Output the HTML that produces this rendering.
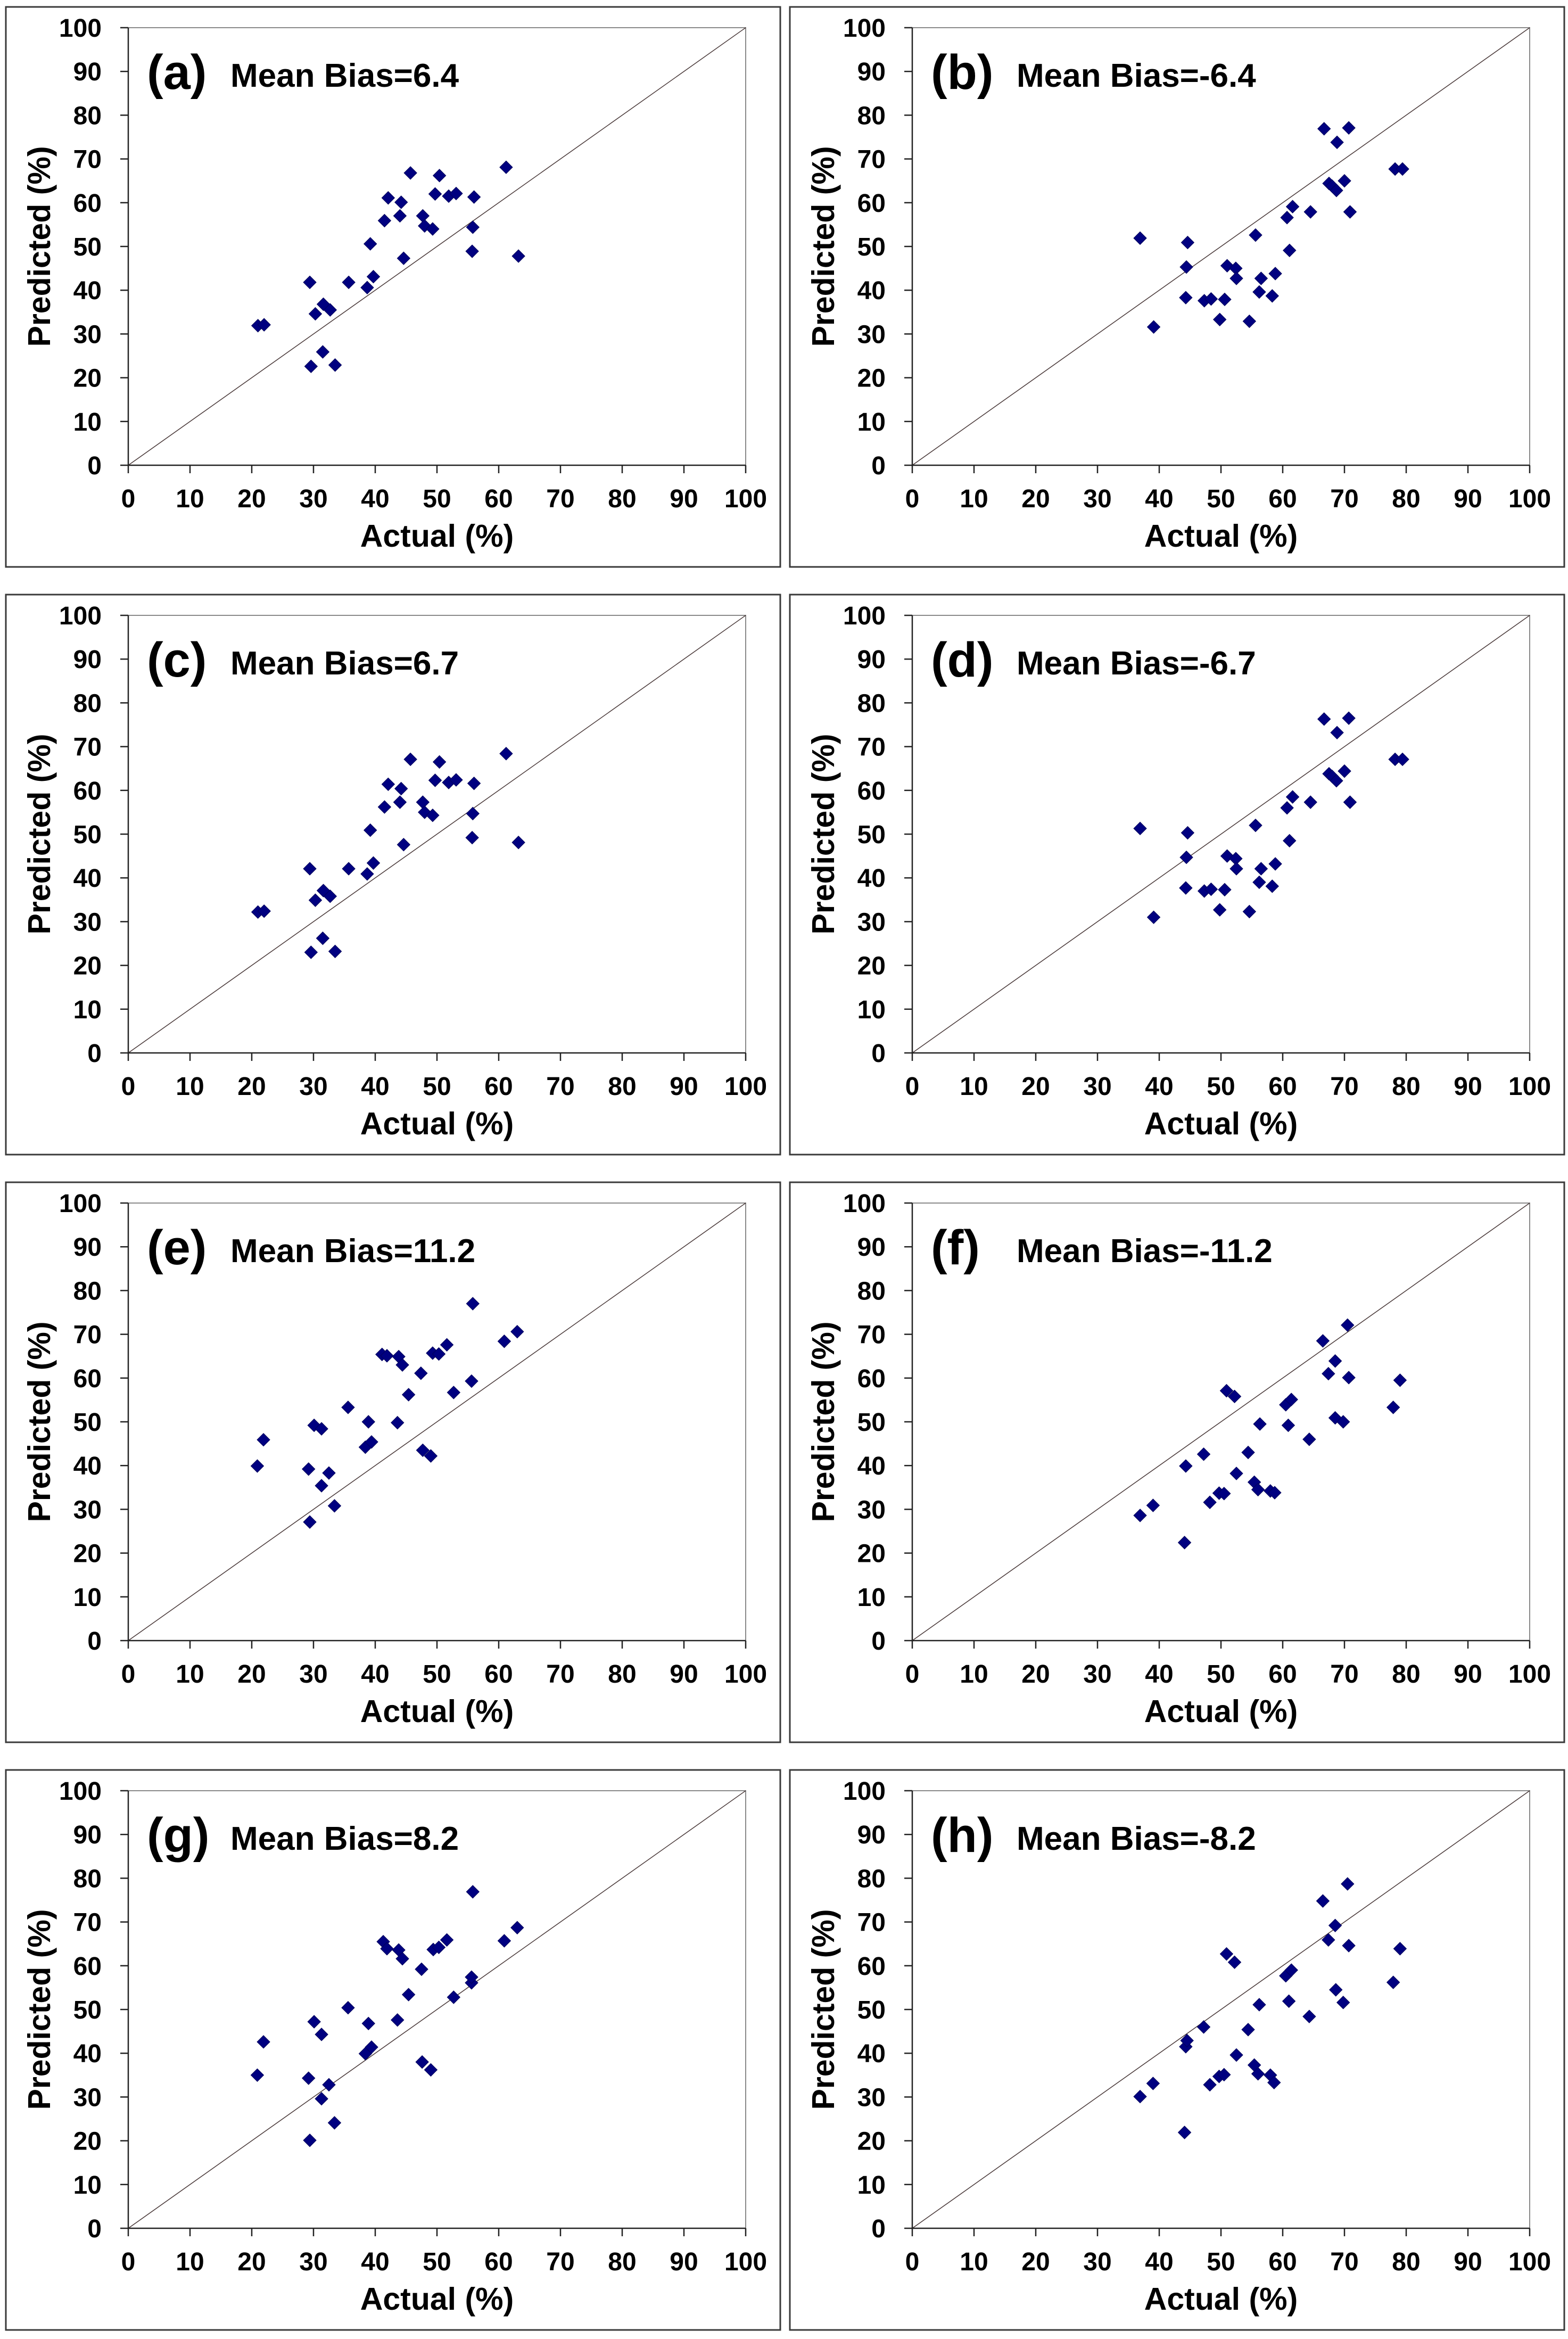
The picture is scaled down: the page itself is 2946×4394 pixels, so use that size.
<!DOCTYPE html>
<html><head><meta charset="utf-8"><style>
html,body{margin:0;padding:0;background:#fff;}
svg{display:block;}
text{font-family:"Liberation Sans",Arial,sans-serif;font-weight:bold;fill:#000;}
</style></head>
<body>
<svg id="fig" width="2946" height="4394" viewBox="0 0 2946 4394" xmlns="http://www.w3.org/2000/svg"></svg>
<script>
// ---- data (Actual %, Predicted %) ----
const panelLetters = ['a','b','c','d','e','f','g','h'];
const meanBias = ['6.4','-6.4','6.7','-6.7','11.2','-11.2','8.2','-8.2'];
const tickValues = [0,10,20,30,40,50,60,70,80,90,100];

const xA = [21.0,22.0,29.4,29.6,30.3,31.6,31.5,32.7,33.5,35.7,38.7,39.2,39.7,41.5,42.1,44.0,44.2,44.6,45.7,47.7,48.0,49.3,49.7,50.4,51.9,53.1,56.0,55.8,55.7,61.2,63.2];
const yA = [31.9,32.1,41.8,22.6,34.6,36.8,25.9,35.5,22.9,41.8,40.6,50.6,43.1,55.9,61.1,57.0,60.1,47.3,66.8,57.0,54.7,54.0,62.0,66.2,61.5,62.1,61.3,54.4,48.9,68.1,47.8];

const xB = [36.9,39.1,44.6,44.4,44.3,47.3,48.4,49.8,50.6,51.0,52.4,52.5,54.6,55.6,56.2,56.5,58.3,58.8,60.7,61.1,61.6,64.5,66.7,67.5,68.0,68.7,68.8,70.0,70.7,70.9,78.2,79.4];
const yB = [51.9,31.6,50.9,45.3,38.3,37.6,38.0,33.3,37.9,45.6,45.0,42.7,32.9,52.6,39.6,42.7,38.7,43.8,56.6,49.1,59.1,57.9,76.9,64.4,63.8,62.8,73.8,65.0,77.1,57.9,67.7,67.7];

const xC = xA.slice();
const yC = [32.2,32.4,42.1,23.0,34.9,37.1,26.2,35.8,23.2,42.1,40.9,50.9,43.4,56.2,61.4,57.3,60.4,47.6,67.1,57.3,55.0,54.3,62.3,66.5,61.8,62.4,61.6,54.7,49.2,68.4,48.1];

const xD = xB.slice();
const yD = [51.3,31.0,50.3,44.7,37.7,37.0,37.4,32.7,37.3,45.0,44.4,42.1,32.3,52.0,39.0,42.1,38.1,43.2,56.0,48.5,58.5,57.3,76.3,63.8,63.2,62.2,73.2,64.4,76.5,57.3,67.1,67.1];

const xE = [20.9,21.9,29.2,29.4,30.1,31.3,31.3,32.5,33.4,35.6,38.4,38.9,39.4,41.1,41.9,43.6,43.8,44.4,45.4,47.4,47.7,49.0,49.3,50.3,51.6,52.7,55.6,55.8,60.9,63.0];
const yE = [39.9,45.9,39.2,27.1,49.2,48.4,35.4,38.3,30.8,53.3,44.2,50.0,45.4,65.4,65.1,49.8,64.9,63.0,56.2,61.1,43.5,42.2,65.7,65.5,67.6,56.7,59.3,77.0,68.4,70.6];

const xF = [36.9,39.0,44.1,44.3,47.2,48.2,49.7,50.5,50.9,52.2,52.5,54.4,55.4,56.0,56.3,58.0,58.7,60.5,60.9,61.4,64.3,66.5,67.4,68.5,68.5,69.8,70.5,70.7,77.9,79.0];
const yF = [28.6,30.9,22.4,39.9,42.6,31.6,33.7,33.6,57.1,55.8,38.2,43.0,36.2,34.5,49.5,34.2,33.8,53.9,49.2,55.1,46.0,68.5,61.0,63.9,50.9,50.0,72.1,60.1,53.3,59.5];

const xG = [20.9,21.9,29.2,29.4,30.1,31.3,31.3,32.5,33.4,35.6,38.4,38.9,39.4,41.3,41.9,43.6,43.8,44.4,45.4,47.5,47.6,49.0,49.4,50.3,51.6,52.7,55.6,55.6,55.8,60.9,63.0];
const yG = [35.0,42.6,34.3,20.1,47.2,44.3,29.6,32.8,24.1,50.4,39.9,46.8,41.4,65.5,63.9,47.6,63.6,61.6,53.4,59.2,38.0,36.2,63.7,64.2,65.9,52.8,56.1,57.4,76.9,65.7,68.7];

const xH = [36.9,39.0,44.1,44.3,44.5,47.2,48.2,49.7,50.5,50.9,52.2,52.5,54.4,55.4,56.0,56.2,58.0,58.6,60.5,61.0,61.4,64.3,66.5,67.4,68.5,68.6,69.8,70.5,70.7,77.9,79.0];
const yH = [30.1,33.1,21.9,41.5,42.9,46.0,32.8,34.7,35.1,62.7,60.8,39.6,45.4,37.3,35.3,51.1,35.0,33.3,57.7,51.9,59.0,48.4,74.8,65.9,69.2,54.5,51.6,78.7,64.6,56.2,63.9];

const seriesX = [xA,xB,xC,xD,xE,xF,xG,xH];
const seriesY = [yA,yB,yC,yD,yE,yF,yG,yH];

// ---- layout ----
const NS = 'http://www.w3.org/2000/svg';
const svg = document.getElementById('fig');
function mk(tag, attrs, parent){
  const e = document.createElementNS(NS, tag);
  for (const k in attrs) e.setAttribute(k, attrs[k]);
  (parent||svg).appendChild(e);
  return e;
}
const ROW = 1104, COLX = [0, 1473];
const PL = 241, PR = 1401, PT = 52, PB = 874;

for (let p = 0; p < 8; p++) {
  const dx = COLX[p % 2], dy = ROW * Math.floor(p / 2);
  const g = mk('g', {transform: 'translate(' + dx + ',' + dy + ')'});
  
  
  const xs = v => PL + (PR - PL) * v / 100;
  const ys = v => PB - (PB - PT) * v / 100;

  const frame = mk('rect', {x: 11, y: 13, width: 1455, height: 1052, fill: 'none', stroke: '#3a3a3a', 'stroke-width': 3}, g);
  
  

  const border = mk('path', {d: 'M' + PL + ' ' + PT + ' H' + PR + ' V' + PB, fill: 'none', stroke: '#8a8a8a', 'stroke-width': 2}, g);
  
  

  const diag = mk('line', {x1: xs(0), y1: ys(0), x2: xs(100), y2: ys(100), stroke: '#4a3a3a', 'stroke-width': 1.5}, g);
  
  

  const axes = mk('path', {d: 'M' + PL + ' ' + PT + ' V' + PB + ' H' + PR, fill: 'none', stroke: '#222', 'stroke-width': 2.5}, g);
  
  

  tickValues.forEach(t => {
    const ty = mk('line', {x1: PL - 15, y1: ys(t), x2: PL, y2: ys(t), stroke: '#222', 'stroke-width': 2.5}, g);
    
    
    const ly = mk('text', {x: 191, y: ys(t) + 17, 'text-anchor': 'end', 'font-size': 48}, g);
    ly.textContent = t;
    
    
    const tx = mk('line', {x1: xs(t), y1: PB, x2: xs(t), y2: PB + 15, stroke: '#222', 'stroke-width': 2.5}, g);
    
    
    const lx = mk('text', {x: xs(t), y: 953, 'text-anchor': 'middle', 'font-size': 48}, g);
    lx.textContent = t;
    
    
  });

  const xt = mk('text', {x: 821, y: 1027, 'text-anchor': 'middle', 'font-size': 59}, g);
  xt.textContent = 'Actual (%)';
  
  

  const yt = mk('text', {x: 0, y: 0, 'text-anchor': 'middle', 'font-size': 59, transform: 'translate(94,463) rotate(-90)'}, g);
  yt.textContent = 'Predicted (%)';
  
  

  const pl = mk('text', {x: 276, y: 167, 'font-size': 92}, g);
  pl.textContent = '(' + panelLetters[p] + ')';
  
  

  const mb = mk('text', {x: 433 + (p % 2 ? 4 : 0), y: 163, 'font-size': 62}, g);
  mb.textContent = 'Mean Bias=' + meanBias[p];
  
  

  const X = seriesX[p], Y = seriesY[p];
  for (let i = 0; i < X.length; i++) {
    const cx = xs(X[i]), cy = ys(Y[i]), r = 12;
    const d = mk('path', {d: 'M' + cx + ' ' + (cy - r) + ' L' + (cx + r) + ' ' + cy + ' L' + cx + ' ' + (cy + r) + ' L' + (cx - r) + ' ' + cy + ' Z', fill: '#000080', stroke: '#00005a', 'stroke-width': 1}, g);
    
    
  }
}
</script>
</body></html>
